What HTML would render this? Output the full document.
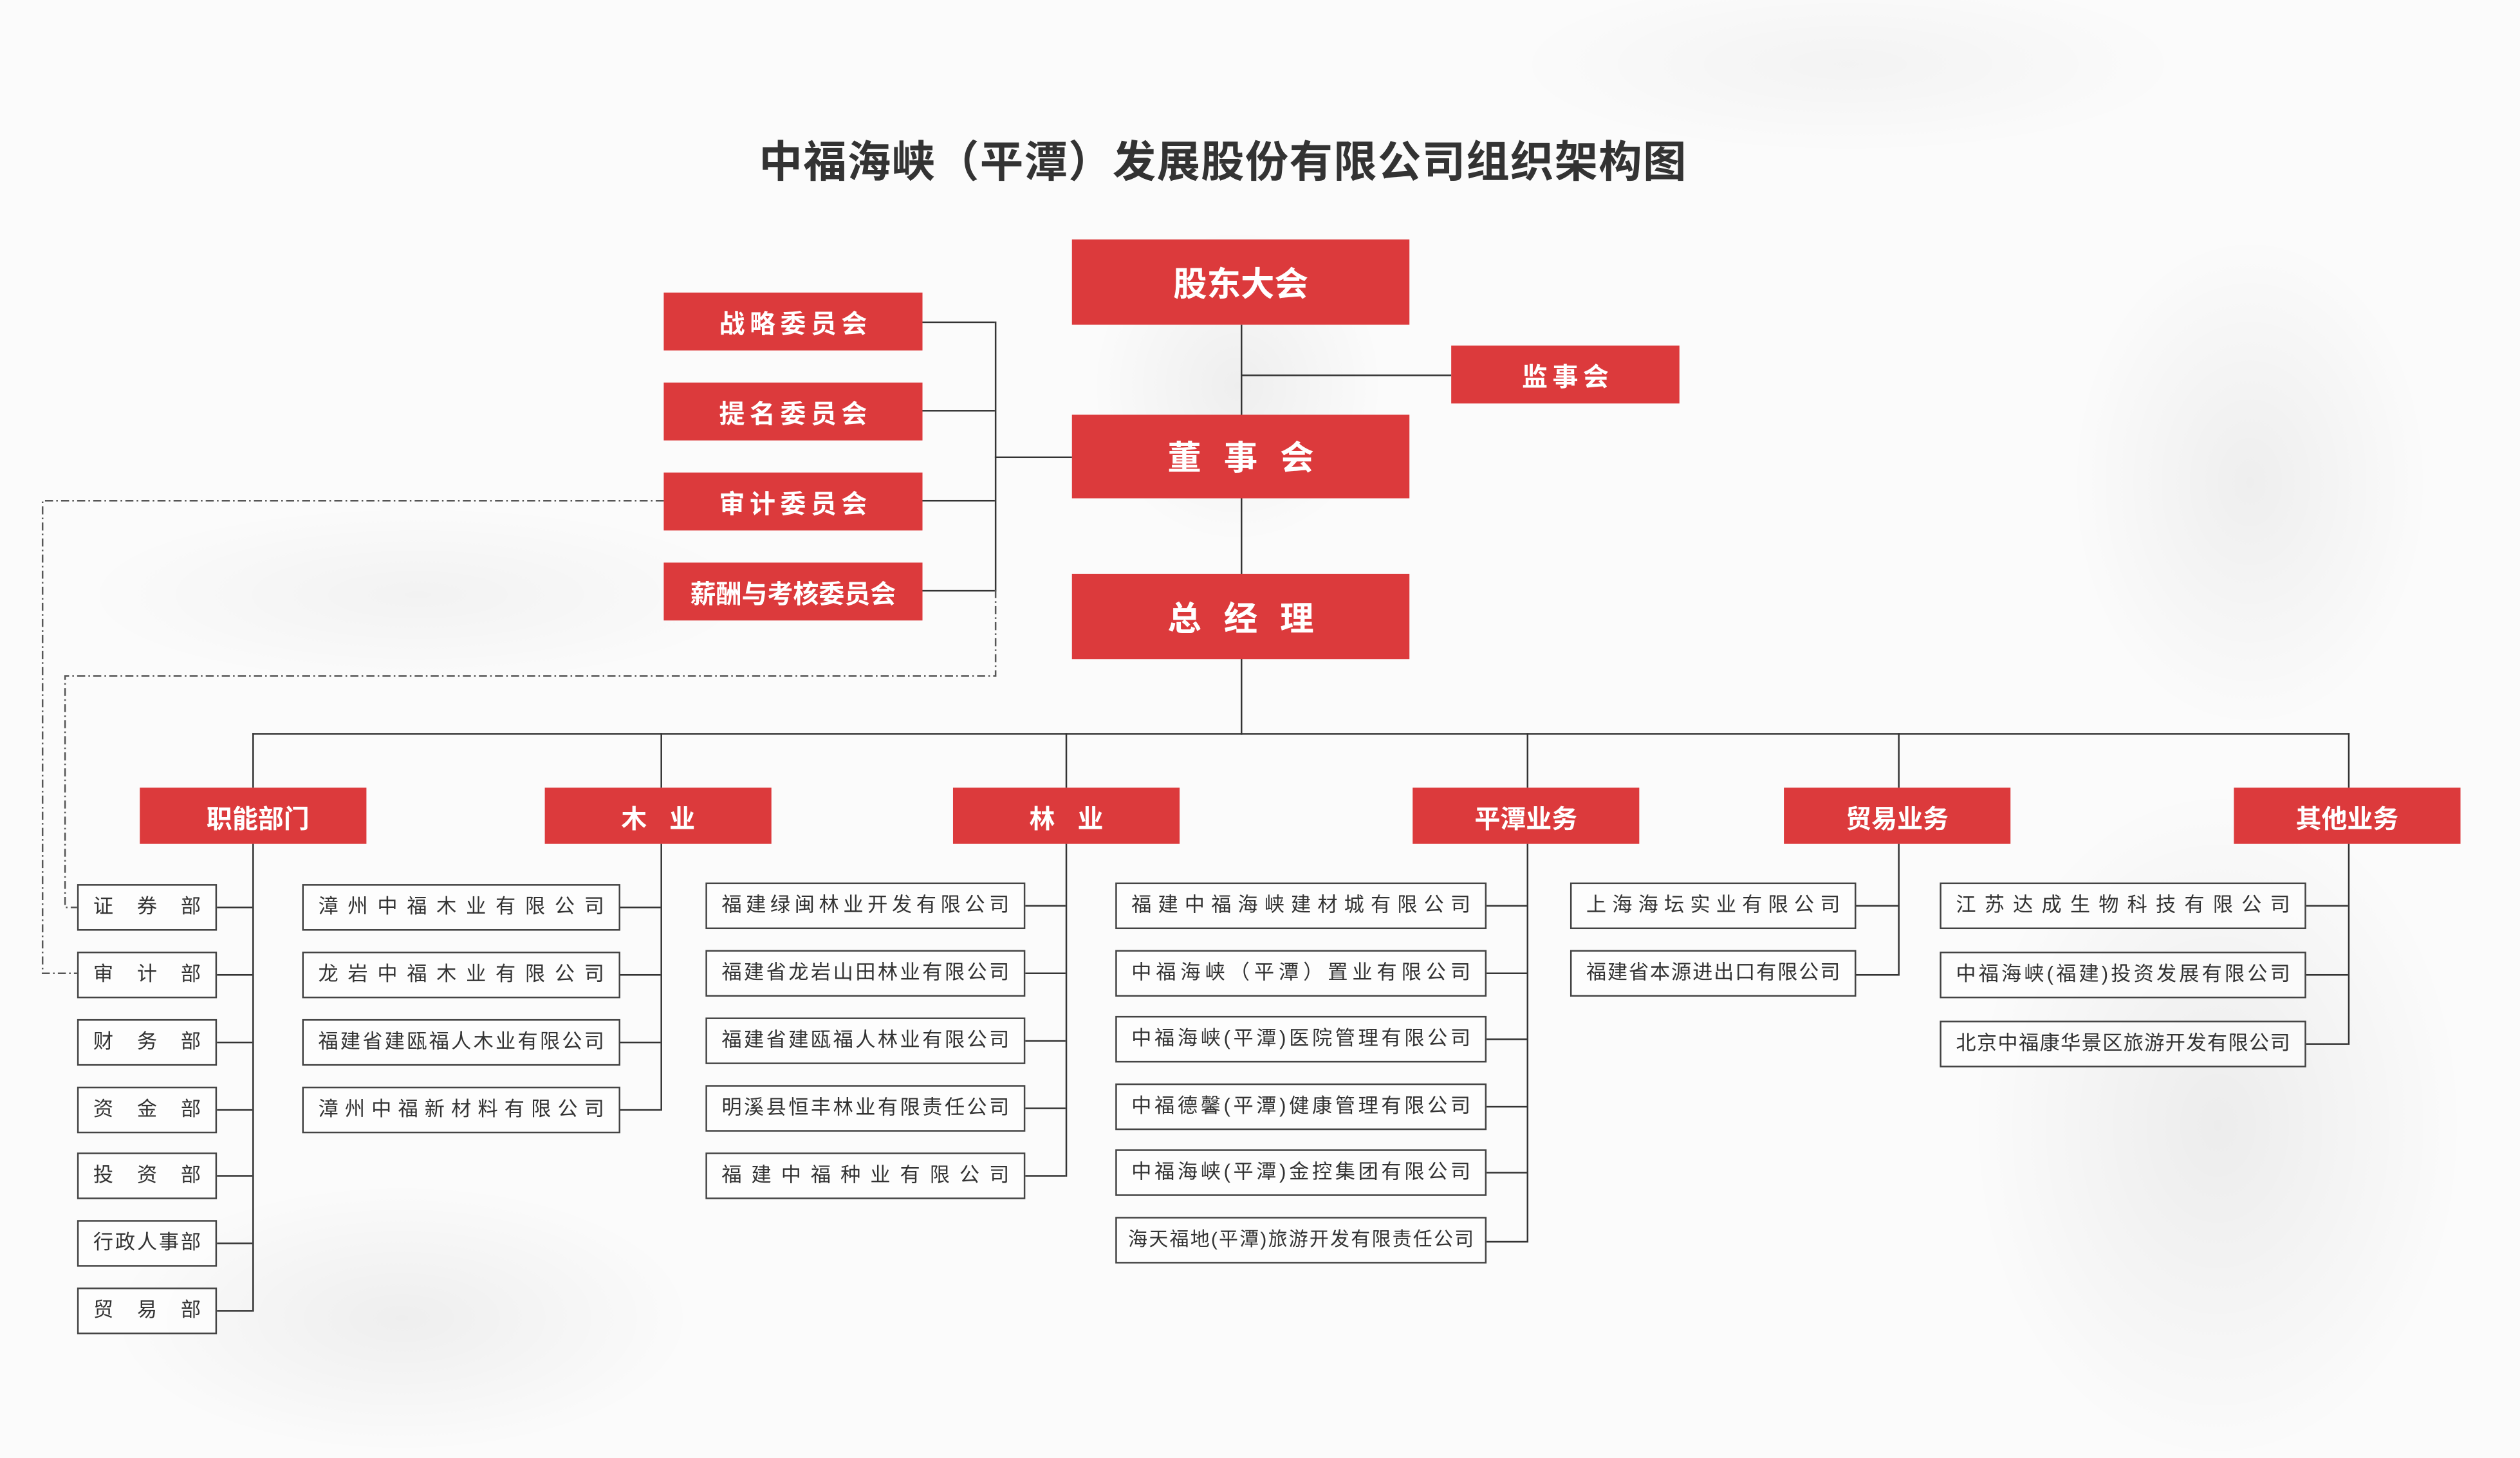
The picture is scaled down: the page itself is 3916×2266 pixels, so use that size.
<!DOCTYPE html>
<html><head><meta charset="utf-8">
<style>
html,body{margin:0;padding:0;width:3916px;height:2266px;overflow:hidden;background:#fbfbfb}
#s{position:absolute;left:0;top:0;width:1568px;height:907px;transform:scale(2.4974,2.4983);transform-origin:0 0;
font-family:"Liberation Sans","Noto Sans CJK SC",sans-serif;
background:
radial-gradient(ellipse 160px 220px at 1400px 300px,rgba(0,0,0,.05),transparent 70%),
radial-gradient(ellipse 220px 300px at 1380px 700px,rgba(0,0,0,.06),transparent 70%),
radial-gradient(ellipse 260px 120px at 250px 820px,rgba(0,0,0,.05),transparent 70%),
radial-gradient(ellipse 300px 80px at 260px 370px,rgba(0,0,0,.035),transparent 70%),
radial-gradient(ellipse 130px 140px at 770px 240px,rgba(0,0,0,.05),transparent 70%),
radial-gradient(ellipse 300px 80px at 1150px 40px,rgba(0,0,0,.03),transparent 70%),
#fbfbfb;}
.r{position:absolute;z-index:2;background:#dc3a3c;color:#fff;font-weight:bold;display:flex;align-items:center;justify-content:center;box-sizing:border-box}
.b{position:absolute;z-index:2;height:29px;border:1.2px solid #444;box-sizing:border-box;background:rgba(255,255,255,.6);color:#333;font-size:12.5px;line-height:27px;padding:0 9px;text-align:justify;text-align-last:justify;white-space:nowrap}
.h{position:absolute;height:1px;background:#333;z-index:1}
.v{position:absolute;width:1px;background:#333;z-index:1}
.title{position:absolute;left:0;width:1522px;top:79px;text-align:center;font-size:27px;font-weight:bold;color:#333;letter-spacing:0.5px}
</style></head><body><div id="s">
<div class="title">中福海峡（平潭）发展股份有限公司组织架构图</div>

<div class="r" style="left:667px;top:149px;width:210px;height:53px;font-size:21px">股东大会</div>
<div class="r" style="left:903px;top:215px;width:142px;height:36px;font-size:16px;letter-spacing:3px;padding-left:3px">监事会</div>
<div class="r" style="left:667px;top:258px;width:210px;height:52px;font-size:21px;letter-spacing:14px;padding-left:14px">董事会</div>
<div class="r" style="left:667px;top:357px;width:210px;height:53px;font-size:21px;letter-spacing:14px;padding-left:14px">总经理</div>

<div class="r" style="left:413px;top:182px;width:161px;height:36px;font-size:16px;letter-spacing:3px;padding-left:3px">战略委员会</div>
<div class="r" style="left:413px;top:238px;width:161px;height:36px;font-size:16px;letter-spacing:3px;padding-left:3px">提名委员会</div>
<div class="r" style="left:413px;top:294px;width:161px;height:36px;font-size:16px;letter-spacing:3px;padding-left:3px">审计委员会</div>
<div class="r" style="left:413px;top:350px;width:161px;height:36px;font-size:16px">薪酬与考核委员会</div>

<div class="v" style="left:772px;top:202px;height:255px"></div>
<div class="h" style="left:772px;top:233px;width:131px"></div>
<div class="h" style="left:574px;top:200px;width:45px"></div>
<div class="h" style="left:574px;top:255px;width:45px"></div>
<div class="h" style="left:574px;top:311px;width:45px"></div>
<div class="h" style="left:574px;top:367px;width:45px"></div>
<div class="v" style="left:619px;top:200px;height:168px"></div>
<div class="h" style="left:619px;top:284px;width:48px"></div>

<svg style="position:absolute;left:0;top:0;z-index:1" width="1568" height="907">
<g fill="none" stroke="#555" stroke-width="1" stroke-dasharray="5,2,1,2">
<path d="M413 311.5 H26.5 V605.5 H48"/>
<path d="M619.5 367 V420.5 H40.5 V564.5 H48"/>
</g></svg>

<div class="h" style="left:157px;top:456px;width:1305px"></div>
<div class="v" style="left:157px;top:456px;height:34px"></div>
<div class="v" style="left:411px;top:456px;height:34px"></div>
<div class="v" style="left:663px;top:456px;height:34px"></div>
<div class="v" style="left:950px;top:456px;height:34px"></div>
<div class="v" style="left:1181px;top:456px;height:34px"></div>
<div class="v" style="left:1461px;top:456px;height:34px"></div>

<div class="r" style="left:87px;top:490px;width:141px;height:35px;font-size:16px;padding-left:6px">职能部门</div>
<div class="r" style="left:339px;top:490px;width:141px;height:35px;font-size:16px;letter-spacing:14px;padding-left:14px">木业</div>
<div class="r" style="left:593px;top:490px;width:141px;height:35px;font-size:16px;letter-spacing:14px;padding-left:14px">林业</div>
<div class="r" style="left:879px;top:490px;width:141px;height:35px;font-size:16px">平潭业务</div>
<div class="r" style="left:1110px;top:490px;width:141px;height:35px;font-size:16px">贸易业务</div>
<div class="r" style="left:1390px;top:490px;width:141px;height:35px;font-size:16px">其他业务</div>

<!-- 职能部门 -->
<div class="v" style="left:157px;top:525px;height:291px"></div>
<div class="b" style="left:48px;top:550px;width:87px">证券部</div>
<div class="b" style="left:48px;top:592px;width:87px">审计部</div>
<div class="b" style="left:48px;top:634px;width:87px">财务部</div>
<div class="b" style="left:48px;top:676px;width:87px">资金部</div>
<div class="b" style="left:48px;top:717px;width:87px">投资部</div>
<div class="b" style="left:48px;top:759px;width:87px">行政人事部</div>
<div class="b" style="left:48px;top:801px;width:87px">贸易部</div>
<div class="h" style="left:135px;top:564px;width:22px"></div>
<div class="h" style="left:135px;top:606px;width:22px"></div>
<div class="h" style="left:135px;top:648px;width:22px"></div>
<div class="h" style="left:135px;top:690px;width:22px"></div>
<div class="h" style="left:135px;top:731px;width:22px"></div>
<div class="h" style="left:135px;top:773px;width:22px"></div>
<div class="h" style="left:135px;top:815px;width:22px"></div>

<!-- 木业 -->
<div class="v" style="left:411px;top:525px;height:166px"></div>
<div class="b" style="left:188px;top:550px;width:198px">漳州中福木业有限公司</div>
<div class="b" style="left:188px;top:592px;width:198px">龙岩中福木业有限公司</div>
<div class="b" style="left:188px;top:634px;width:198px">福建省建瓯福人木业有限公司</div>
<div class="b" style="left:188px;top:676px;width:198px">漳州中福新材料有限公司</div>
<div class="h" style="left:386px;top:564px;width:25px"></div>
<div class="h" style="left:386px;top:606px;width:25px"></div>
<div class="h" style="left:386px;top:648px;width:25px"></div>
<div class="h" style="left:386px;top:690px;width:25px"></div>

<!-- 林业 -->
<div class="v" style="left:663px;top:525px;height:207px"></div>
<div class="b" style="left:439px;top:549px;width:199px">福建绿闽林业开发有限公司</div>
<div class="b" style="left:439px;top:591px;width:199px">福建省龙岩山田林业有限公司</div>
<div class="b" style="left:439px;top:633px;width:199px">福建省建瓯福人林业有限公司</div>
<div class="b" style="left:439px;top:675px;width:199px">明溪县恒丰林业有限责任公司</div>
<div class="b" style="left:439px;top:717px;width:199px">福建中福种业有限公司</div>
<div class="h" style="left:638px;top:563px;width:25px"></div>
<div class="h" style="left:638px;top:605px;width:25px"></div>
<div class="h" style="left:638px;top:647px;width:25px"></div>
<div class="h" style="left:638px;top:689px;width:25px"></div>
<div class="h" style="left:638px;top:731px;width:25px"></div>

<!-- 平潭业务 -->
<div class="v" style="left:950px;top:525px;height:248px"></div>
<div class="b" style="left:694px;top:549px;width:231px">福建中福海峡建材城有限公司</div>
<div class="b" style="left:694px;top:591px;width:231px">中福海峡（平潭）置业有限公司</div>
<div class="b" style="left:694px;top:632px;width:231px">中福海峡(平潭)医院管理有限公司</div>
<div class="b" style="left:694px;top:674px;width:231px">中福德馨(平潭)健康管理有限公司</div>
<div class="b" style="left:694px;top:715px;width:231px">中福海峡(平潭)金控集团有限公司</div>
<div class="b" style="left:694px;top:757px;width:231px;font-size:12px;padding:0 7px">海天福地(平潭)旅游开发有限责任公司</div>
<div class="h" style="left:925px;top:563px;width:25px"></div>
<div class="h" style="left:925px;top:605px;width:25px"></div>
<div class="h" style="left:925px;top:646px;width:25px"></div>
<div class="h" style="left:925px;top:688px;width:25px"></div>
<div class="h" style="left:925px;top:729px;width:25px"></div>
<div class="h" style="left:925px;top:772px;width:25px"></div>

<!-- 贸易业务 -->
<div class="v" style="left:1181px;top:525px;height:82px"></div>
<div class="b" style="left:977px;top:549px;width:178px">上海海坛实业有限公司</div>
<div class="b" style="left:977px;top:591px;width:178px">福建省本源进出口有限公司</div>
<div class="h" style="left:1155px;top:563px;width:26px"></div>
<div class="h" style="left:1155px;top:606px;width:26px"></div>

<!-- 其他业务 -->
<div class="v" style="left:1461px;top:525px;height:125px"></div>
<div class="b" style="left:1207px;top:549px;width:228px">江苏达成生物科技有限公司</div>
<div class="b" style="left:1207px;top:592px;width:228px">中福海峡(福建)投资发展有限公司</div>
<div class="b" style="left:1207px;top:635px;width:228px">北京中福康华景区旅游开发有限公司</div>
<div class="h" style="left:1435px;top:563px;width:26px"></div>
<div class="h" style="left:1435px;top:606px;width:26px"></div>
<div class="h" style="left:1435px;top:649px;width:26px"></div>
</div></body></html>
